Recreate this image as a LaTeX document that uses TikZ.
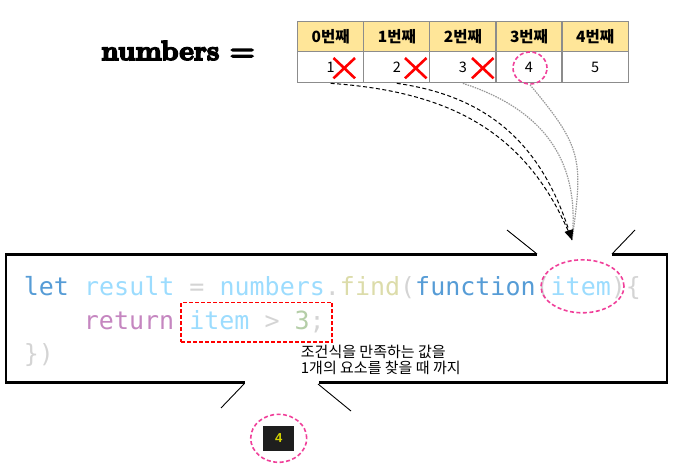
\documentclass[tikz,border=0pt]{standalone}
\usepackage{fontspec}
\newfontfamily\kr{Noto Sans CJK KR}
\newfontfamily\codefont{DejaVu Sans Mono}
\newfontfamily\sansf{Liberation Sans}
\newfontfamily\headfont[FakeBold=6]{lmroman10-bold.otf}
\usetikzlibrary{arrows.meta,shapes.geometric}
\definecolor{hdr}{HTML}{FFE699}
\definecolor{grid}{HTML}{8C8C8C}
\definecolor{pinkc}{HTML}{F0409A}
\definecolor{kw}{HTML}{569CD6}
\definecolor{vr}{HTML}{9CDCFE}
\definecolor{op}{HTML}{D4D4D4}
\definecolor{fn}{HTML}{DCDCAA}
\definecolor{ctl}{HTML}{C586C0}
\definecolor{nm}{HTML}{B5CEA8}
\definecolor{darkbg}{HTML}{1E1E1E}
\definecolor{resy}{HTML}{D4D400}
\tikzset{
  hcell/.style={draw=grid, line width=1.3pt, fill=hdr, minimum width=66.3pt, minimum height=30pt, inner sep=0pt, font=\kr\bfseries\fontsize{15.5}{17}\selectfont},
  vcell/.style={draw=grid, line width=1.3pt, fill=white, minimum width=66.3pt, minimum height=31pt, inner sep=0pt, font=\kr\fontsize{14.5}{16}\selectfont},
  xmark/.style={draw=red, line width=2.6pt},
  pinkring/.style={draw=pinkc, line width=1.6pt, dash pattern=on 4pt off 2.5pt, ellipse, inner sep=0pt},
  blkdash/.style={draw=black, line width=1pt, dash pattern=on 4pt off 2.5pt},
  grydot/.style={draw=black!40, line width=1.2pt, dash pattern=on 1.5pt off 1pt},
  codeline/.style={anchor=base west, inner sep=0pt, font=\codefont\fontsize{25}{30}\selectfont},
  krnote/.style={anchor=base west, inner sep=0pt, font=\kr\fontsize{15}{17}\selectfont},
  spike/.style={draw=black, line width=0.9pt},
  bubble/.style={draw=black, line width=2.4pt}
}
\begin{document}
\begin{tikzpicture}[x=1pt,y=1pt]
\useasboundingbox (0,0) rectangle (673,-473);
% heading
\node[anchor=base west, inner sep=0pt, font=\headfont\fontsize{27.5}{30}\selectfont] (title) at (101,-60) {numbers =};
% table
\foreach \i/\t in {0/0번째,1/1번째,2/2번째,3/3번째,4/4번째}{
  \node[hcell] (h\i) at (330.7+66.1*\i,-36.7) {\t};
}
\node[vcell] (v0) at (330.7,-67.2) {1};
\node[vcell] (v1) at (396.8,-67.2) {2};
\node[vcell] (v2) at (462.9,-67.2) {3};
\node[vcell] (v3) at (529.0,-67.2) {4};
\node[vcell] (v4) at (595.1,-67.2) {5};
% red crosses
\foreach \x in {333.5,405,472}{
  \draw[xmark] (\x,-58) -- (\x+21.5,-78.3);
  \draw[xmark] (\x,-78.3) -- (\x+21.5,-58);
}
\node[pinkring, minimum width=34pt, minimum height=32pt] (c4) at (530,-68) {};
% arrows
\coordinate (tip) at (572,-240);
\draw[grydot] (c4.south) to[out=-50,in=82,looseness=1.3] (tip);
\draw[grydot] (v2.south) to[out=-18,in=84,looseness=1.1] (tip);
\draw[blkdash] (v0.south) to[out=-4,in=112,looseness=1.05] (tip);
\draw[blkdash,-{Triangle[length=10pt,width=9pt]}] (v1.south) to[out=-8,in=108,looseness=1.05] (tip);
% speech bubble
\draw[bubble] (537,-254.5) -- (6,-254.5) -- (6,-382.5) -- (245,-382.5);
\draw[bubble] (319,-382.5) -- (667,-382.5) -- (667,-254.5) -- (612,-254.5);
\draw[spike] (537,-254) -- (507,-230);
\draw[spike] (612,-254) -- (635,-230);
\draw[spike] (244,-384) -- (221,-408);
\draw[spike] (318,-384) -- (351,-411);
% code
\node[codeline] (l1) at (23.7,-296) {\textcolor{kw}{let} \textcolor{vr}{result} \textcolor{op}{=} \textcolor{vr}{numbers}\textcolor{op}{.}\textcolor{fn}{find}\textcolor{op}{(}\textcolor{kw}{function}\textcolor{op}{(}\textcolor{vr}{item}\textcolor{op}{)\{}};
\node[codeline] (l2) at (83.7,-329.3) {\textcolor{ctl}{return} \textcolor{vr}{item} \textcolor{op}{>} \textcolor{nm}{3}\textcolor{op}{;}};
\node[codeline] (l3) at (23.7,-363) {\textcolor{op}{\})}};
\node[draw=red, line width=1.6pt, dash pattern=on 4pt off 2pt, minimum width=151pt, minimum height=39.6pt, inner sep=0pt] (cond) at (256.5,-322.5) {};
\node[pinkring, minimum width=83pt, minimum height=53pt] (itemc) at (582.5,-286.3) {};
% note
\node[krnote] (n1) at (300.7,-358) {조건식을 만족하는 값을};
\node[krnote] (n2) at (300.7,-373.5) {1개의 요소를 찾을 때 까지};
% result
\node[fill=darkbg, minimum width=31pt, minimum height=25pt, inner sep=0pt, font=\sansf\bfseries\fontsize{13}{15}\selectfont, text=resy] (res) at (278.7,-438.3) {4};
\node[pinkring, minimum width=56pt, minimum height=48pt] (resc) at (278.7,-438.3) {};
\end{tikzpicture}
\end{document}
